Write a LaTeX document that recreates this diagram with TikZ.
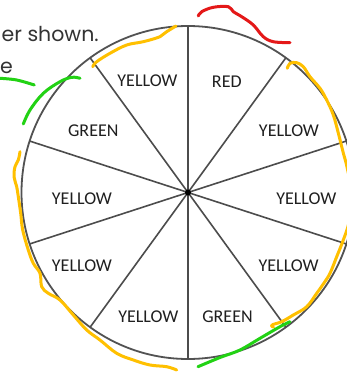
\documentclass[tikz,border=0pt]{standalone}
\usepackage{fontspec}
\usetikzlibrary{calc}
\setmainfont{Carlito}
\newfontfamily\gothic{Poppins}
\begin{document}
\begin{tikzpicture}[x=1pt,y=-1pt,
  rim/.style={draw=black!68,line width=1.8pt},
  spoke/.style={draw=black!70,line width=1.6pt},
  lab/.style={font=\fontsize{18}{20}\selectfont,text=black!88,inner sep=0pt},
  topline/.style={font=\gothic\fontsize{20.5}{22}\selectfont,text=black!80,inner sep=0pt,anchor=base west},
  pen/.style={line width=3pt,line cap=round,line join=round},
  penY/.style={pen,draw={rgb,255:red,255;green,192;blue,0}},
  penG/.style={pen,draw={rgb,255:red,34;green,210;blue,20}},
  penR/.style={pen,draw={rgb,255:red,228;green,24;blue,24}}]
\useasboundingbox (0,0) rectangle (347,372);
\clip (0,0) rectangle (347,372);
\fill[white] (0,0) rectangle (347,372);

\coordinate (c) at (188,192.5);
\draw[rim] (c) circle[radius=166.5];
\foreach \a [count=\i] in {90,54,18,-18,-54,-90,-126,-162,162,126}{
  \coordinate (p\i) at ($(c)+(\a:166.5)$);
  \draw[spoke] (c) -- (p\i);
}
\node[circle,fill=black,inner sep=0pt,minimum size=6pt] (dot) at (c) {};

\node[lab] (s1) at (147.5,80.5) {YELLOW};
\node[lab] (s2) at (226.8,82) {RED};
\node[lab] (s3) at (289,131) {YELLOW};
\node[lab] (s4) at (306.3,198.8) {YELLOW};
\node[lab] (s5) at (288.7,265.8) {YELLOW};
\node[lab] (s6) at (227.5,316.3) {GREEN};
\node[lab] (s7) at (148.3,316.3) {YELLOW};
\node[lab] (s8) at (82,265.8) {YELLOW};
\node[lab] (s9) at (82,198.8) {YELLOW};
\node[lab] (s10) at (93.3,131) {GREEN};

\node[topline] (t1) at (1.5,41.7) {er shown.};
\node[topline] (t2) at (0,73.5) {e};

% hand-drawn strokes
\draw[penR] plot[smooth,tension=0.6] coordinates {(198.3,16) (201.7,11.7) (213.3,7.3) (228.3,6.7) (233.3,11.7) (241.7,16.7) (253.3,25) (263.3,36.7) (273.3,41.7) (290,42.7)};
\draw[penY] plot[smooth,tension=0.6] coordinates {(92.7,66.7) (96.7,61.7) (110,53.3) (126.7,45) (143.3,41.7) (160,36.7) (166.7,31.7) (176,26)};
\draw[penG] plot[smooth,tension=0.6] coordinates {(0,78.3) (16.7,80) (34.3,85)};
\draw[penG] plot[smooth,tension=0.6] coordinates {(23.3,124) (30,110) (43.3,93.3) (60,81.7) (71.7,77.3) (80,78.3)};
\draw[penY] plot[smooth,tension=0.6] coordinates {(287.3,68.3) (290,63.3) (296.7,62.7) (303.3,66.7) (310,76.7) (320,88.3) (326.7,100) (333.3,115) (338.3,133) (343.3,153) (347,167) (352,195) (349,222) (343.3,240) (336.7,256.7) (330,273.3) (323.3,284) (316.7,293.3) (306.7,306.7) (293.3,315) (281.7,321.7) (273,324.5) (271.7,326.3) (273.5,327)};
\draw[penG] plot[smooth,tension=0.6] coordinates {(290,321.7) (280,326.7) (260,338.3) (240,350) (220,357.5) (198,366.7)};
\draw[penY] plot[smooth,tension=0.6] coordinates {(20,151.7) (18.3,160) (15,166.7) (14,176.7) (16.7,186.7) (18.3,196.7) (20.7,213.3) (22.7,230) (28.3,250) (33.3,263.3) (40,273.3) (41.7,286.7) (48.3,293.3) (60,300) (73.3,315) (86.7,330) (100,340) (116.7,353.3) (133.3,360) (150,365) (166.7,366.7) (176.7,370)};
\end{tikzpicture}
\end{document}
